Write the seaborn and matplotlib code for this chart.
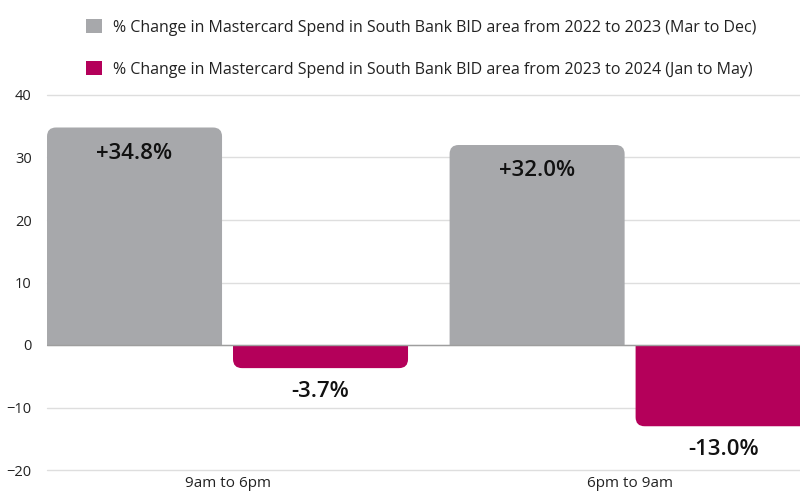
import matplotlib
matplotlib.use("Agg")
import matplotlib.pyplot as plt
import seaborn as sns
import pandas as pd
from matplotlib.patches import PathPatch, Patch
from matplotlib.path import Path

# ---- data ----
categories = ["9am to 6pm", "6pm to 9am"]
series_names = [
    "% Change in Mastercard Spend in South Bank BID area from 2022 to 2023 (Mar to Dec)",
    "% Change in Mastercard Spend in South Bank BID area from 2023 to 2024 (Jan to May)",
]
values_2022_2023 = [34.8, 32.0]
values_2023_2024 = [-3.7, -13.0]
labels_2022_2023 = ["+34.8%", "+32.0%"]
labels_2023_2024 = ["-3.7%", "-13.0%"]
y_ticks = [-20, -10, 0, 10, 20, 30, 40]
colors = ["#A7A8AB", "#B4005A"]

sns.set_theme(style="white")
plt.rcParams['font.family'] = ['Open Sans', 'DejaVu Sans']

df = pd.DataFrame({
    "period": categories + categories,
    "series": [series_names[0]] * len(categories) + [series_names[1]] * len(categories),
    "value": values_2022_2023 + values_2023_2024,
})

fig = plt.figure(figsize=(8, 4.94), dpi=100)
ax = fig.add_axes([47 / 800, 24 / 494, 753 / 800, 375 / 494])
sns.barplot(data=df, x="period", y="value", hue="series", hue_order=series_names,
            palette=colors, saturation=1, width=0.924, gap=0.059,
            errorbar=None, legend=False, ax=ax)

ax.set_xlim(-0.4484, 1.422)
ax.set_ylim(-20, 40)
ax.set_yticks(y_ticks)
ax.set_xlabel("")
ax.set_ylabel("")
for s in ax.spines.values():
    s.set_visible(False)
ax.yaxis.grid(True, color="#DEDEDE", lw=1)
for gl in ax.yaxis.get_gridlines():
    gl.set_clip_on(False)
ax.set_axisbelow(True)
ax.axhline(0, color="#9E9E9E", lw=1, zorder=3)
ax.tick_params(axis="y", length=0, pad=11, labelsize=10.5, labelcolor="#222222")
ax.tick_params(axis="x", length=0, pad=4, labelsize=11, labelcolor="#222222")

# rounded outer corners (derived from each seaborn bar)
fig.canvas.draw()
p0 = ax.transData.transform((0, 0))
p1 = ax.transData.transform((1, 1))
px_x = abs(p1[0] - p0[0])
px_y = abs(p1[1] - p0[1])
rad_px = 9
rx = rad_px / px_x
ry = rad_px / px_y
for p in list(ax.patches):
    x0, w = p.get_x(), p.get_width()
    yb = p.get_y()
    ye = yb + p.get_height()
    x1 = x0 + w
    sgn = 1 if ye >= yb else -1
    verts = [(x0, yb), (x0, ye - sgn * ry), (x0, ye), (x0 + rx, ye),
             (x1 - rx, ye), (x1, ye), (x1, ye - sgn * ry), (x1, yb), (x0, yb)]
    codes = [Path.MOVETO, Path.LINETO, Path.CURVE3, Path.CURVE3,
             Path.LINETO, Path.CURVE3, Path.CURVE3, Path.LINETO, Path.CLOSEPOLY]
    fc = p.get_facecolor()
    p.set_visible(False)
    ax.add_patch(PathPatch(Path(verts, codes), facecolor=fc, edgecolor="none", zorder=2))

# value labels
for cont, labs in zip(ax.containers, [labels_2022_2023, labels_2023_2024]):
    for bar, lab in zip(cont, labs):
        cx = bar.get_x() + bar.get_width() / 2
        h = bar.get_height()
        off = -18.5 if h >= 0 else -17
        ax.annotate(lab, (cx, h), xytext=(0, off), textcoords="offset points",
                    ha="center", va="center", fontsize=16, fontweight="semibold",
                    color="#111111", zorder=4)

handles = [Patch(facecolor=c, edgecolor="none") for c in colors]
fig.legend(handles, series_names, loc="upper left",
           bbox_to_anchor=(86 / 800, 1 - 19 / 494), frameon=False,
           fontsize=11.5, handlelength=1.0, handleheight=1.0, handletextpad=0.7,
           labelspacing=1.6, borderpad=0, borderaxespad=0, labelcolor="#222222")

fig.savefig("out.png", dpi=100)
